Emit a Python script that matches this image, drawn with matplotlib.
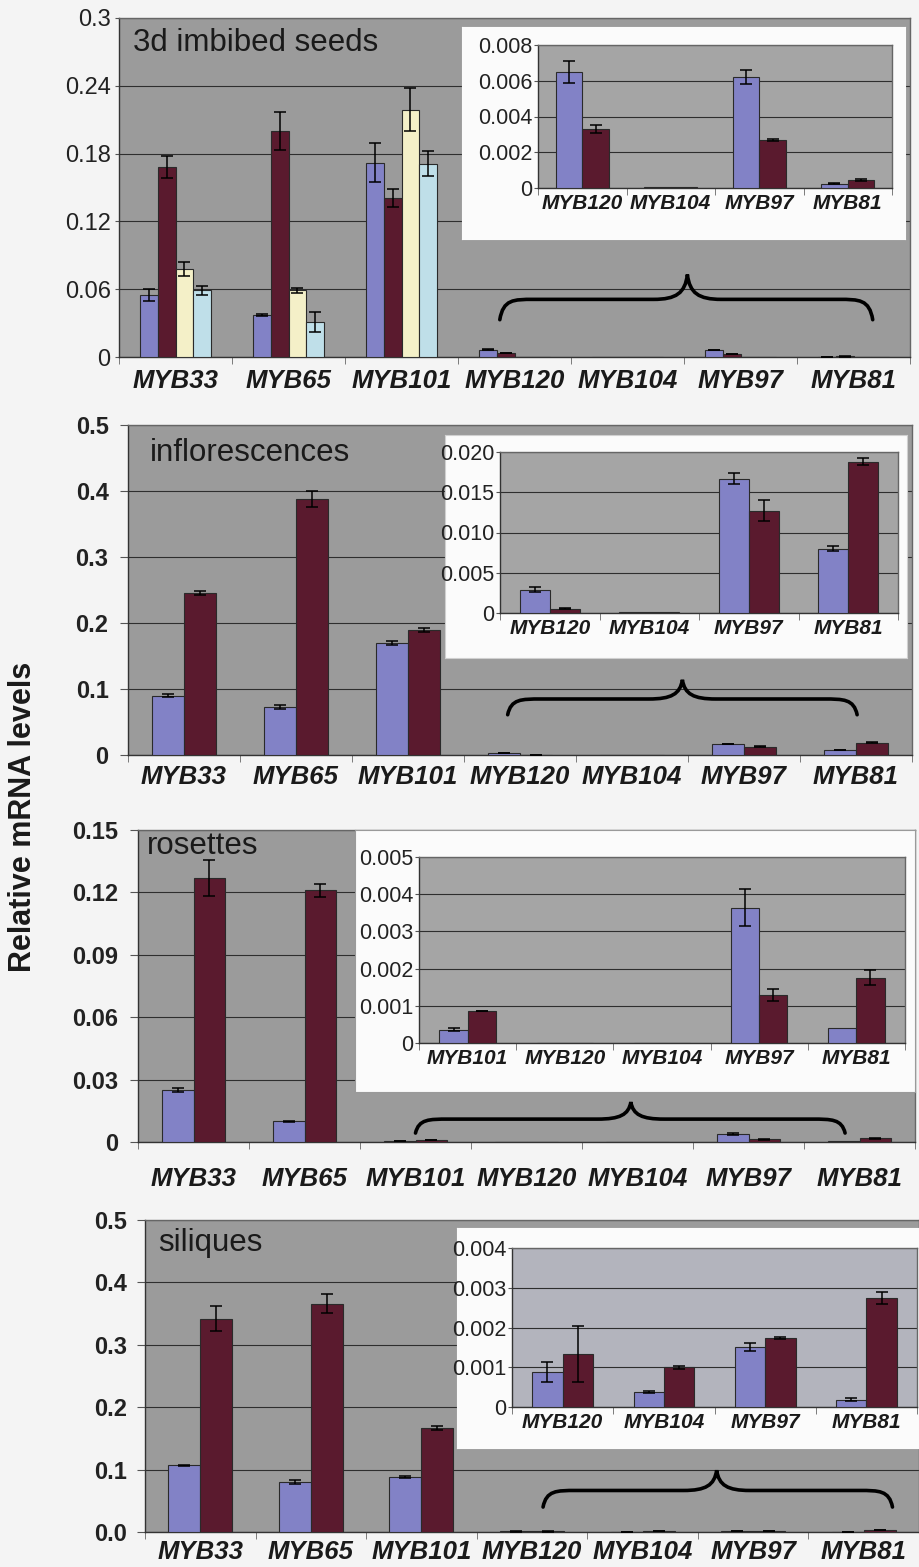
import numpy as np
import matplotlib
matplotlib.use('Agg')
import matplotlib.pyplot as plt
from matplotlib.path import Path
from matplotlib.patches import PathPatch

plt.rcParams['font.family'] = ['Liberation Sans', 'DejaVu Sans']

W, H = 919, 1567

genes = ['MYB33', 'MYB65', 'MYB101', 'MYB120', 'MYB104', 'MYB97', 'MYB81']

# 3d imbibed seeds (4 series)
seeds_a = [0.055, 0.037, 0.172, 0.0065, 0.00003, 0.0062, 0.00025]
seeds_a_err = [0.005, 0.001, 0.017, 0.0006, 0, 0.0004, 0.00003]
seeds_b = [0.168, 0.200, 0.141, 0.0033, 0.00003, 0.0027, 0.00045]
seeds_b_err = [0.010, 0.017, 0.008, 0.0002, 0, 0.00005, 0.00005]
seeds_c = [0.078, 0.059, 0.219, 0, 0, 0, 0]
seeds_c_err = [0.006, 0.002, 0.019, 0, 0, 0, 0]
seeds_d = [0.059, 0.031, 0.171, 0, 0, 0, 0]
seeds_d_err = [0.004, 0.009, 0.011, 0, 0, 0, 0]

# inflorescences
infl_a = [0.090, 0.072, 0.170, 0.0029, 0.0001, 0.0167, 0.0080]
infl_a_err = [0.002, 0.003, 0.003, 0.0003, 0, 0.0007, 0.0003]
infl_b = [0.246, 0.388, 0.189, 0.00054, 0.0001, 0.0127, 0.0188]
infl_b_err = [0.003, 0.012, 0.003, 0.00005, 0, 0.0013, 0.0004]

# rosettes
ros_a = [0.0251, 0.0099, 0.00036, 0, 0, 0.00364, 0.00041]
ros_a_err = [0.001, 0.0003, 0.00005, 0, 0, 0.0005, 0]
ros_b = [0.127, 0.121, 0.00086, 0, 0, 0.00128, 0.00176]
ros_b_err = [0.0085, 0.003, 0.00001, 0, 0, 0.00016, 0.0002]

# siliques
sil_a = [0.107, 0.080, 0.088, 0.00088, 0.00037, 0.00151, 0.00018]
sil_a_err = [0.001, 0.003, 0.002, 0.00026, 0.00002, 0.0001, 0.00004]
sil_b = [0.342, 0.366, 0.167, 0.00134, 0.0010, 0.00173, 0.00275]
sil_b_err = [0.020, 0.015, 0.003, 0.0007, 0.00004, 0.00003, 0.00015]

blue = '#8282c6'
red = '#5a1a2e'
cream = '#f4f0c8'
ltblue = '#bfdfe9'


def box(l, t, r, b):
    # pixel box -> figure fraction
    return [l / W, 1 - b / H, (r - l) / W, (b - t) / H]


def bars(ax, labels, series, errs, colors, width):
    x = np.arange(len(labels))
    n = len(series)
    for i, (vals, err, c) in enumerate(zip(series, errs, colors)):
        xi = x + (i - (n - 1) / 2) * width
        v = np.array(vals, dtype=float)
        e = np.array(err, dtype=float)
        ax.bar(xi, v, width, color=c, edgecolor='#2a2a2a', linewidth=0.8, zorder=3)
        m = e > 0
        ax.errorbar(xi[m], v[m], yerr=e[m], fmt='none', ecolor='black',
                    elinewidth=1.1, capsize=4, capthick=1.1, zorder=4)
    ax.set_xlim(-0.5, len(labels) - 0.5)
    ax.set_xticks(x)
    ax.set_xticks(np.arange(len(labels) + 1) - 0.5, minor=True)


def style(ax, ticks, ticklabels, bg, xsize, ysize, ybold, xpad, ypad, ylen):
    ax.set_facecolor(bg)
    ax.set_ylim(ticks[0], ticks[-1])
    ax.set_yticks(ticks)
    ax.set_yticklabels(ticklabels, fontsize=ysize,
                       fontweight='bold' if ybold else 'normal', color='#222222')
    for lab in ax.get_xticklabels():
        lab.set_fontsize(xsize)
        lab.set_fontweight('bold')
        lab.set_fontstyle('italic')
        lab.set_color('#1a1a1a')
    ax.tick_params(axis='x', which='major', length=0, pad=xpad)
    ax.tick_params(axis='x', which='minor', length=5, color='#666666')
    ax.tick_params(axis='y', length=ylen, pad=ypad, color='#555555')
    ax.yaxis.grid(True, color='#2e2e2e', linewidth=0.8)
    ax.set_axisbelow(True)
    for s in ax.spines.values():
        s.set_color('#666666')
        s.set_linewidth(1)
    ax.spines['left'].set_color('#333333')
    ax.spines['bottom'].set_color('#333333')


def brace(ax, x0, x1, xt, yb, yt):
    ym = yb + (yt - yb) * 0.45
    r = 0.3
    verts = [(x0, yb),
             (x0 + 0.03, ym), (x0 + 0.12, ym), (x0 + r, ym),
             (xt - r, ym),
             (xt - 0.1, ym), (xt - 0.02, ym + 0.25 * (yt - ym)), (xt, yt),
             (xt + 0.02, ym + 0.25 * (yt - ym)), (xt + 0.1, ym), (xt + r, ym),
             (x1 - r, ym),
             (x1 - 0.12, ym), (x1 - 0.03, ym), (x1, yb)]
    codes = [Path.MOVETO] + [Path.CURVE4] * 3 + [Path.LINETO] + [Path.CURVE4] * 6 + \
            [Path.LINETO] + [Path.CURVE4] * 3
    ax.add_patch(PathPatch(Path(verts, codes), fill=False, lw=2.6,
                           edgecolor='black', capstyle='round', zorder=5))


def white_box(l, t, r, b, edge='#d0d0d0'):
    wb = fig.add_axes(box(l, t, r, b))
    wb.set_facecolor('#fbfbfb')
    wb.set_xticks([])
    wb.set_yticks([])
    for s in wb.spines.values():
        s.set_color(edge)
    return wb


fig = plt.figure(figsize=(W / 100, H / 100), dpi=100)
fig.patch.set_facecolor('#f4f4f4')

# ---- panel 1: 3d imbibed seeds
ax1 = fig.add_axes(box(119, 18, 910, 357))
bars(ax1, genes, [seeds_a, seeds_b, seeds_c, seeds_d],
     [seeds_a_err, seeds_b_err, seeds_c_err, seeds_d_err],
     [blue, red, cream, ltblue], 0.158)
ax1.set_xticklabels(genes)
style(ax1, [0, 0.06, 0.12, 0.18, 0.24, 0.3], ['0', '0.06', '0.12', '0.18', '0.24', '0.3'],
      '#9b9b9b', 18.5, 17, False, 9, 3, 3)
brace(ax1, 2.87, 6.17, 4.53, 0.033, 0.073)
white_box(462, 27, 905, 239, edge='#fbfbfb')
in1 = fig.add_axes(box(538, 45, 892, 188))
bars(in1, genes[3:], [seeds_a[3:], seeds_b[3:]], [seeds_a_err[3:], seeds_b_err[3:]],
     [blue, red], 0.3)
in1.set_xticklabels(genes[3:])
style(in1, [0, 0.002, 0.004, 0.006, 0.008], ['0', '0.002', '0.004', '0.006', '0.008'],
      '#a5a5a5', 15, 15.5, False, 4, 1, 3)

# ---- panel 2: inflorescences
ax2 = fig.add_axes(box(128, 425, 912, 755))
bars(ax2, genes, [infl_a, infl_b], [infl_a_err, infl_b_err], [blue, red], 0.285)
ax2.set_xticklabels(genes)
style(ax2, [0, 0.1, 0.2, 0.3, 0.4, 0.5], ['0', '0.1', '0.2', '0.3', '0.4', '0.5'],
      '#9b9b9b', 18.5, 17, True, 7, 8, 6)
brace(ax2, 2.89, 6.01, 4.45, 0.061, 0.114)
white_box(445, 435, 907, 658)
in2 = fig.add_axes(box(500, 452, 898, 613))
bars(in2, genes[3:], [infl_a[3:], infl_b[3:]], [infl_a_err[3:], infl_b_err[3:]],
     [blue, red], 0.3)
in2.set_xticklabels(genes[3:])
style(in2, [0, 0.005, 0.010, 0.015, 0.020], ['0', '0.005', '0.010', '0.015', '0.020'],
      '#a5a5a5', 15, 15.5, False, 4, 1, 3)

# ---- panel 3: rosettes
ax3 = fig.add_axes(box(138, 830, 915, 1142))
bars(ax3, genes, [ros_a, ros_b], [ros_a_err, ros_b_err], [blue, red], 0.285)
ax3.set_xticklabels(genes)
style(ax3, [0, 0.03, 0.06, 0.09, 0.12, 0.15], ['0', '0.03', '0.06', '0.09', '0.12', '0.15'],
      '#9b9b9b', 18.5, 17, True, 18, 8, 6)
brace(ax3, 2.0, 5.87, 3.94, 0.0043, 0.0192)
white_box(355, 830, 915, 1092, edge='#9a9a9a')
in3 = fig.add_axes(box(419, 857, 905, 1043))
bars(in3, genes[2:], [ros_a[2:], ros_b[2:]], [ros_a_err[2:], ros_b_err[2:]],
     [blue, red], 0.29)
in3.set_xticklabels(genes[2:])
style(in3, [0, 0.001, 0.002, 0.003, 0.004, 0.005],
      ['0', '0.001', '0.002', '0.003', '0.004', '0.005'],
      '#a5a5a5', 15, 15.5, False, 4, 1, 3)

# ---- panel 4: siliques
ax4 = fig.add_axes(box(145, 1220, 919, 1532))
bars(ax4, genes, [sil_a, sil_b], [sil_a_err, sil_b_err], [blue, red], 0.29)
ax4.set_xticklabels(genes)
style(ax4, [0, 0.1, 0.2, 0.3, 0.4, 0.5], ['0.0', '0.1', '0.2', '0.3', '0.4', '0.5'],
      '#9b9b9b', 18.5, 17, True, 6, 7, 6)
brace(ax4, 3.1, 6.26, 4.67, 0.040, 0.099)
white_box(457, 1228, 919, 1448, edge='#fbfbfb')
in4 = fig.add_axes(box(512, 1248, 917, 1407))
bars(in4, genes[3:], [sil_a[3:], sil_b[3:]], [sil_a_err[3:], sil_b_err[3:]],
     [blue, red], 0.3)
in4.set_xticklabels(genes[3:])
style(in4, [0, 0.001, 0.002, 0.003, 0.004], ['0', '0.001', '0.002', '0.003', '0.004'],
      '#b3b4bd', 15, 15.5, False, 4, 1, 3)

# panel titles
fig.text(133 / W, 1 - 43 / H, '3d imbibed seeds', fontsize=22.5, va='center', color='#1a1a1a')
fig.text(150 / W, 1 - 453 / H, 'inflorescences', fontsize=22.5, va='center', color='#1a1a1a')
fig.text(147 / W, 1 - 846 / H, 'rosettes', fontsize=22.5, va='center', color='#1a1a1a')
fig.text(158 / W, 1 - 1243 / H, 'siliques', fontsize=22.5, va='center', color='#1a1a1a')

fig.text(23 / W, 1 - 817 / H, 'Relative mRNA levels', rotation=90, fontsize=22,
         fontweight='bold', va='center', ha='center', color='#1a1a1a')

fig.savefig('out.png', dpi=100, facecolor=fig.get_facecolor())
